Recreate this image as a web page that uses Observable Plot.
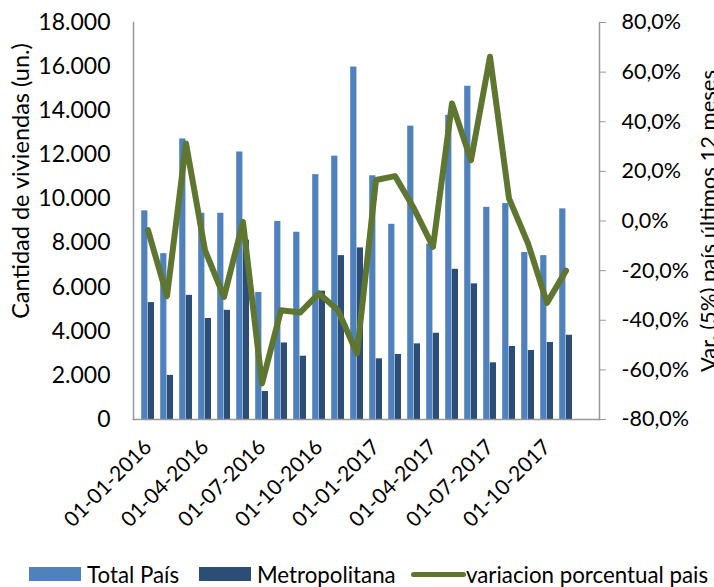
<!DOCTYPE html>
<html><head><meta charset="utf-8">
<script src="https://cdn.jsdelivr.net/npm/d3@7"></script>
<script src="https://cdn.jsdelivr.net/npm/@observablehq/plot@0.6"></script>
<style>
body{margin:0;background:#fff;font-family:Lato,sans-serif;}
#wrap{position:relative;width:714px;height:587px;overflow:hidden;background:#fff;}
#legend{position:absolute;left:0;top:561px;width:714px;height:26px;font-size:22.3px;color:#000;}
.item{position:absolute;top:0;height:26px;display:flex;align-items:center;white-space:nowrap;}
.sw{display:inline-block;}
</style></head><body>
<div id="wrap"><div id="chart"></div><div id="legend"></div></div>
<script>
const months = ["01-01-2016","01-02-2016","01-03-2016","01-04-2016","01-05-2016","01-06-2016",
  "01-07-2016","01-08-2016","01-09-2016","01-10-2016","01-11-2016","01-12-2016",
  "01-01-2017","01-02-2017","01-03-2017","01-04-2017","01-05-2017","01-06-2017",
  "01-07-2017","01-08-2017","01-09-2017","01-10-2017","01-11-2017","01-12-2017"];
const totalPais = [9460,7520,12720,9350,9350,12130,5760,8980,8490,11100,11940,15980,
  11050,8850,13300,7950,13790,15110,9620,9790,7570,7430,9550];
const metropolitana = [5300,2000,5630,4580,4950,8130,1270,3470,2870,5820,7430,7780,
  2750,2950,3430,3910,6810,6150,2570,3310,3130,3490,3820];
const variacion = [-3.7,-30.3,31.2,-11.8,-30.6,-0.4,-65.5,-36.0,-36.9,-29.2,-36.0,-53.4,
  16.5,18.1,5.0,-10.4,47.4,24.5,66.2,9.1,-9.0,-33.0,-20.0];
const tickLabels = ["01-01-2016","01-04-2016","01-07-2016","01-10-2016",
  "01-01-2017","01-04-2017","01-07-2017","01-10-2017"];
const leftTicks = [0,2000,4000,6000,8000,10000,12000,14000,16000,18000];
const rightTicks = [-80,-60,-40,-20,0,20,40,60,80];
const seriesNames = ["Total País","Metropolitana","variacion porcentual pais"];
const yLabelLeft = "Cantidad de viviendas (un.)";
const yLabelRight = "Var. (5%) país últimos 12 meses";

const colors = ["#4F81BD","#2C4D75","#5E7630"];
const loc = d3.formatLocale({decimal:",",thousands:".",grouping:[3],currency:["",""],minus:"-"});
const fmtInt = loc.format(",.0f");
const fmtPct = loc.format(".1f");
const toLeft = d3.scaleLinear([-80,80],[0,18000]);

const rows = totalPais.map((t,i)=>({month:months[i], total:t, metro:metropolitana[i], v:variacion[i]}));

const chart = Plot.plot({
  width:714, height:556,
  marginTop:22, marginBottom:137, marginLeft:133, marginRight:115,
  style:{fontFamily:"Lato, sans-serif", fontSize:"21px", color:"#000", background:"#fff"},
  x:{type:"band", domain:months, padding:0, label:null},
  y:{domain:[0,18000], label:null},
  marks:[
    Plot.barY(rows,{x:"month", y:"total", fill:colors[0], insetLeft:3.2, insetRight:9.6}),
    Plot.barY(rows,{x:"month", y:"metro", fill:colors[1], insetLeft:9.8, insetRight:3}),
    Plot.lineY(rows,{x:"month", y:d=>toLeft(d.v), stroke:colors[2], strokeWidth:6, strokeLinejoin:"round"}),
    Plot.frame({anchor:"left", stroke:"#999", strokeWidth:1.5}),
    Plot.frame({anchor:"right", stroke:"#999", strokeWidth:1.5}),
    Plot.frame({anchor:"bottom", stroke:"#999", strokeWidth:1.5}),
    Plot.axisY({anchor:"left", ticks:leftTicks, tickFormat:fmtInt, tickSize:0, tickPadding:23, fontSize:23, label:null}),
    Plot.axisY({anchor:"right", ticks:rightTicks.map(v=>toLeft(v)), tickFormat:v=>fmtPct(Math.round(toLeft.invert(v)*10)/10)+"%",
      tickSize:6, tickPadding:16, stroke:"#999", fontSize:21.5, label:null}),
    Plot.axisX({ticks:tickLabels, tickFormat:d=>d, tickRotate:-45, tickSize:0, tickPadding:24, fontSize:21, label:null}),
    Plot.text([yLabelLeft],{frameAnchor:"left", textAnchor:"middle", rotate:-90, dx:-121, dy:-40, lineAnchor:"top", fontSize:23.5, fill:"#000"}),
    Plot.text([yLabelRight],{frameAnchor:"right", textAnchor:"middle", rotate:-90, dx:116, lineAnchor:"bottom", fontSize:22, fill:"#000"})
  ]
});
document.getElementById("chart").appendChild(chart);

const legend = document.getElementById("legend");
const legendLayout = [
  {sw:29, w:52, h:14, text:87},
  {sw:199, w:52, h:14, text:257},
  {sw:411, w:55, h:5, text:466}
];
seriesNames.forEach((name,i)=>{
  const L = legendLayout[i];
  const s = document.createElement("div");
  s.className="item"; s.style.left=L.sw+"px";
  s.innerHTML = `<span class="sw" style="width:${L.w}px;height:${L.h}px;background:${colors[i]};${i==2?'border-radius:3px;':''}"></span>`;
  legend.appendChild(s);
  const t = document.createElement("div");
  t.className="item"; t.style.left=L.text+"px"; t.textContent=name;
  legend.appendChild(t);
});
</script>
</body></html>
